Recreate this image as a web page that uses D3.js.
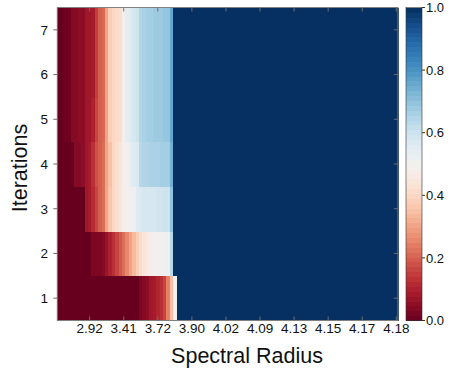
<!DOCTYPE html>
<html>
<head>
<meta charset="utf-8">
<script src="https://d3js.org/d3.v7.min.js"></script>
<style>
body { margin: 0; background: #fff; }
text { font-family: "Liberation Sans", Arial, Helvetica, sans-serif; fill: #111; }
</style>
</head>
<body>
<div id="chart"></div>
<script>

// rows of the heatmap, one array per iteration, one value per spectral radius column (100 columns)
var iter1 = [0,0,0,0,0,0,0,0,0,0, 0,0,0,0,0,0,0,0,0,0, 0,0,0,0,0.03,0.04,0.05,0.08,0.09,0.11, 0.13,0.16,0.25,0.35,0.49,
  1,1,1,1,1, 1,1,1,1,1,1,1,1,1,1, 1,1,1,1,1,1,1,1,1,1, 1,1,1,1,1,1,1,1,1,1, 1,1,1,1,1,1,1,1,1,1, 1,1,1,1,1,1,1,1,1,1, 1,1,1,1,1,1,1,1,1,1];
var iter2 = [0,0,0,0,0,0,0,0,0,0, 0.03,0.03,0.03,0.04,0.07,0.10,0.13,0.16,0.19,0.22, 0.26,0.30,0.34,0.38,0.41,0.44,0.46,0.48,0.49,0.50, 0.50,0.51,0.52,0.64,
  1,1,1,1,1,1, 1,1,1,1,1,1,1,1,1,1, 1,1,1,1,1,1,1,1,1,1, 1,1,1,1,1,1,1,1,1,1, 1,1,1,1,1,1,1,1,1,1, 1,1,1,1,1,1,1,1,1,1, 1,1,1,1,1,1,1,1,1,1];
var iter3 = [0,0,0,0,0,0,0,0,0.08,0.09, 0.12,0.16,0.20,0.22,0.30,0.36,0.40,0.42,0.44,0.48, 0.50,0.50,0.52,0.56,0.57,0.58,0.58,0.58,0.58,0.59, 0.59,0.60,0.60,0.70,
  1,1,1,1,1,1, 1,1,1,1,1,1,1,1,1,1, 1,1,1,1,1,1,1,1,1,1, 1,1,1,1,1,1,1,1,1,1, 1,1,1,1,1,1,1,1,1,1, 1,1,1,1,1,1,1,1,1,1, 1,1,1,1,1,1,1,1,1,1];
var iter4 = [0,0,0,0,0,0.04,0.04,0.05,0.08,0.09, 0.13,0.18,0.20,0.22,0.30,0.35,0.40,0.42,0.44,0.49, 0.50,0.54,0.56,0.57,0.64,0.65,0.65,0.66,0.66,0.66, 0.67,0.67,0.67,0.74,
  1,1,1,1,1,1, 1,1,1,1,1,1,1,1,1,1, 1,1,1,1,1,1,1,1,1,1, 1,1,1,1,1,1,1,1,1,1, 1,1,1,1,1,1,1,1,1,1, 1,1,1,1,1,1,1,1,1,1, 1,1,1,1,1,1,1,1,1,1];
var iter5 = [0,0,0.01,0.01,0.04,0.04,0.05,0.05,0.08,0.08, 0.10,0.16,0.20,0.21,0.30,0.38,0.40,0.41,0.42,0.50, 0.55,0.56,0.58,0.60,0.65,0.66,0.67,0.67,0.68,0.68, 0.68,0.69,0.69,0.76,
  1,1,1,1,1,1, 1,1,1,1,1,1,1,1,1,1, 1,1,1,1,1,1,1,1,1,1, 1,1,1,1,1,1,1,1,1,1, 1,1,1,1,1,1,1,1,1,1, 1,1,1,1,1,1,1,1,1,1, 1,1,1,1,1,1,1,1,1,1];
var iter6 = [0,0,0.01,0.01,0.04,0.04,0.05,0.05,0.08,0.08, 0.09,0.15,0.20,0.21,0.30,0.38,0.40,0.41,0.42,0.50, 0.55,0.56,0.58,0.60,0.65,0.66,0.67,0.67,0.68,0.68, 0.68,0.69,0.69,0.76,
  1,1,1,1,1,1, 1,1,1,1,1,1,1,1,1,1, 1,1,1,1,1,1,1,1,1,1, 1,1,1,1,1,1,1,1,1,1, 1,1,1,1,1,1,1,1,1,1, 1,1,1,1,1,1,1,1,1,1, 1,1,1,1,1,1,1,1,1,1];
var iter7 = [0,0,0.01,0.01,0.04,0.04,0.05,0.05,0.08,0.08, 0.09,0.15,0.20,0.21,0.30,0.38,0.40,0.41,0.42,0.50, 0.55,0.56,0.58,0.60,0.65,0.66,0.67,0.67,0.68,0.68, 0.68,0.69,0.69,0.76,
  1,1,1,1,1,1, 1,1,1,1,1,1,1,1,1,1, 1,1,1,1,1,1,1,1,1,1, 1,1,1,1,1,1,1,1,1,1, 1,1,1,1,1,1,1,1,1,1, 1,1,1,1,1,1,1,1,1,1, 1,1,1,1,1,1,1,1,1,1];

var iterations = [1, 2, 3, 4, 5, 6, 7];
var rows = [iter1, iter2, iter3, iter4, iter5, iter6, iter7];

// x tick labels sit on every tenth column
var xTickIndex = [9, 19, 29, 39, 49, 59, 69, 79, 89, 99];
var xTickLabels = ["2.92", "3.41", "3.72", "3.90", "4.02", "4.09", "4.13", "4.15", "4.17", "4.18"];
var cbTicks = [0, 0.2, 0.4, 0.6, 0.8, 1.0];

var W = 454, H = 374;
var pLeft = 57.3, pRight = 398, pTop = 7.5, pBottom = 320.5;
var cbLeft = 406, cbRight = 422;

var svg = d3.select("#chart").append("svg")
  .attr("width", W)
  .attr("height", H);

var x = d3.scaleBand().domain(d3.range(100)).range([pLeft, pRight]);
var y = d3.scaleBand().domain(iterations.slice().reverse()).range([pTop, pBottom]);
var color = d3.scaleSequential(d3.interpolateRdBu).domain([0, 1]);

// flatten into cells
var cells = [];
rows.forEach(function(r, k) {
  r.forEach(function(v, i) {
    if (i < 100) cells.push({ it: iterations[k], col: i, v: v });
  });
});

svg.append("g")
  .attr("shape-rendering", "crispEdges")
  .selectAll("rect")
  .data(cells)
  .join("rect")
    .attr("x", d => x(d.col))
    .attr("y", d => y(d.it))
    .attr("width", x.bandwidth() + 0.6)
    .attr("height", y.bandwidth() + 0.6)
    .attr("fill", d => color(d.v));

// frame
svg.append("rect")
  .attr("x", pLeft).attr("y", pTop)
  .attr("width", pRight - pLeft).attr("height", pBottom - pTop)
  .attr("fill", "none")
  .attr("stroke", "#808080")
  .attr("stroke-width", 1);

var tickCol = "#6e6e6e";
var tg = svg.append("g").attr("stroke", tickCol).attr("stroke-width", 1);

// x ticks, inside at top and bottom
xTickIndex.forEach(function(i) {
  var cx = x(i) + x.bandwidth() / 2;
  tg.append("line").attr("x1", cx).attr("x2", cx).attr("y1", pTop).attr("y2", pTop + 4);
  tg.append("line").attr("x1", cx).attr("x2", cx).attr("y1", pBottom).attr("y2", pBottom - 4);
});

// y ticks
iterations.forEach(function(it) {
  var cy = y(it) + y.bandwidth() / 2;
  tg.append("line").attr("x1", pLeft - 4).attr("x2", pLeft).attr("y1", cy).attr("y2", cy);
  tg.append("line").attr("x1", pRight).attr("x2", pRight - 4).attr("y1", cy).attr("y2", cy);
});

// tick labels
svg.append("g")
  .selectAll("text")
  .data(xTickIndex)
  .join("text")
    .attr("x", d => x(d) + x.bandwidth() / 2)
    .attr("y", 333)
    .attr("text-anchor", "middle")
    .attr("font-size", 13.5)
    .text((d, i) => xTickLabels[i]);

svg.append("g")
  .selectAll("text")
  .data(iterations)
  .join("text")
    .attr("x", 48)
    .attr("y", d => y(d) + y.bandwidth() / 2)
    .attr("dy", "0.36em")
    .attr("text-anchor", "end")
    .attr("font-size", 13.5)
    .text(d => d);

// axis titles
svg.append("text")
  .attr("x", 247)
  .attr("y", 363)
  .attr("text-anchor", "middle")
  .attr("font-size", 21.5)
  .text("Spectral Radius");

svg.append("text")
  .attr("transform", "translate(27," + ((pTop + pBottom) / 2 + 4) + ") rotate(-90)")
  .attr("text-anchor", "middle")
  .attr("font-size", 21.5)
  .text("Iterations");

// colorbar, 64 bands
var cbY = d3.scaleLinear().domain([0, 1]).range([pBottom, pTop]);
var nBands = 64;
svg.append("g")
  .attr("shape-rendering", "crispEdges")
  .selectAll("rect")
  .data(d3.range(nBands))
  .join("rect")
    .attr("x", cbLeft)
    .attr("y", d => cbY((d + 1) / nBands))
    .attr("width", cbRight - cbLeft)
    .attr("height", (pBottom - pTop) / nBands + 0.6)
    .attr("fill", d => color((d + 0.5) / nBands));

svg.append("rect")
  .attr("x", cbLeft).attr("y", pTop)
  .attr("width", cbRight - cbLeft).attr("height", pBottom - pTop)
  .attr("fill", "none")
  .attr("stroke", "#333")
  .attr("stroke-width", 0.6);

var cbAxis = svg.append("g");
cbTicks.forEach(function(t) {
  cbAxis.append("line")
    .attr("x1", cbRight).attr("x2", cbRight + 3)
    .attr("y1", cbY(t)).attr("y2", cbY(t))
    .attr("stroke", "#333");
  cbAxis.append("text")
    .attr("x", cbRight + 4)
    .attr("y", cbY(t))
    .attr("dy", "0.36em")
    .attr("font-size", 13)
    .text(d3.format(".1f")(t));
});

</script>
</body>
</html>
